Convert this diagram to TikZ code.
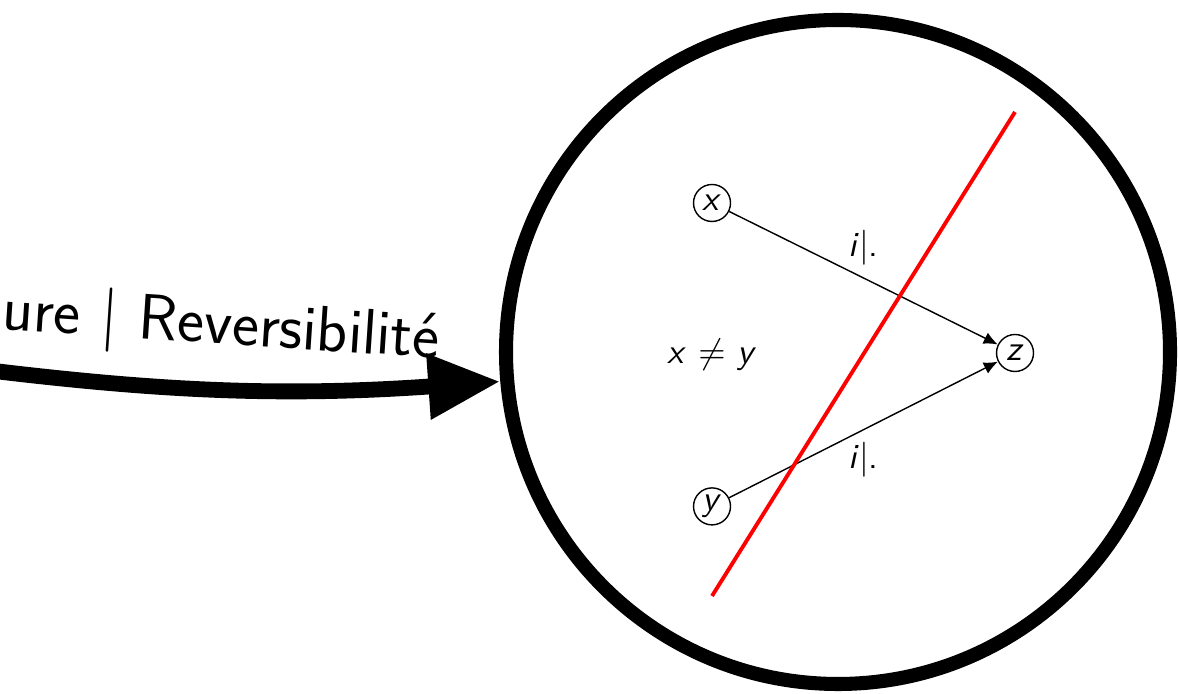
\documentclass[tikz,border=0pt]{standalone}
\usetikzlibrary{arrows.meta, positioning}
\renewcommand{\familydefault}{\sfdefault}
\newcommand{\var}[1]{\textit{#1}}

\begin{document}
\begin{tikzpicture}[
    etat/.style={draw, thin, circle, minimum size=0.37cm, inner sep=0pt},
    trans/.style={-{Latex[length=4pt, width=3.5pt]}, thin},
    loupe/.style={draw, circle, line width=4pt, minimum size=6.64cm},
    fleche/.style={-{Triangle[length=0.72cm, width=0.62cm]}, line width=4.5pt},
    coupe/.style={red, line width=1.1pt}
  ]
  \useasboundingbox (0,0) rectangle (11.79,6.94);

  % Zoom bubble
  \node[loupe] (bulle) at (8.38,3.42) {};
  \coordinate (depart) at (-1.5,3.42);
  \draw[fleche] (depart) to[out=-8, in=184] (bulle.185);
  \node[anchor=base east, rotate=-3.8, font=\fontsize{18.3}{22}\selectfont]
    (titre) at (4.51,3.35) {ure | Reversibilité};

  % States
  \node[etat] (x) at (7.12,4.91) {\var{x}};
  \node[etat, below=2.65cm of x] (y) {\var{y}};
  \node[etat] (z) at (10.15,3.41) {\var{z}};
  \node (diff) at (7.12,3.39) {\var{x} $\neq$ \var{y}};
  \draw[trans] (x) -- node[above] (lx) {\var{i}$|$.} (z);
  \draw[trans] (y) -- node[below] (ly) {\var{i}$|$.} (z);

  % Cut
  \coordinate (haut) at (10.15,5.82);
  \coordinate (bas) at (7.12,0.98);
  \draw[coupe] (haut) -- (bas);
\end{tikzpicture}
\end{document}
